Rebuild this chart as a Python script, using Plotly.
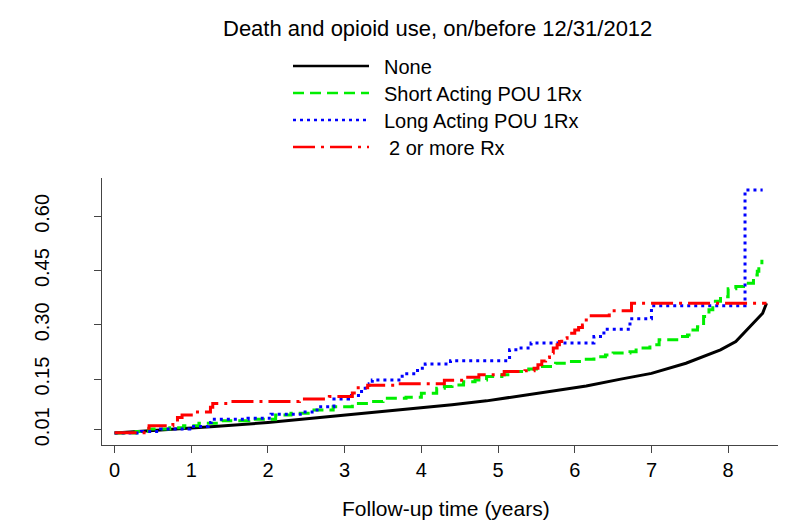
import plotly.graph_objects as go

# cumulative incidence (time in years, probability)
none_t = [0, 0.7, 1.3, 2.0, 2.6, 3.3, 3.9, 4.4, 4.85, 5.3, 5.7, 6.15, 6.6, 7.0, 7.45, 7.9, 8.1, 8.3, 8.45, 8.5]
none_p = [0.001, 0.010, 0.019, 0.030, 0.042, 0.056, 0.069, 0.079, 0.090, 0.104, 0.118, 0.131, 0.150, 0.166, 0.194, 0.231, 0.254, 0.300, 0.332, 0.360]

short_t = [0, 0.28, 0.45, 0.72, 0.9, 1.1, 1.4, 1.75, 2.1, 2.3, 2.6, 2.85, 3.1, 3.35, 3.5, 3.8, 4.0, 4.2, 4.3,
           4.4, 4.55, 4.7, 4.85, 5.05, 5.17, 5.4, 5.5, 5.75, 5.9, 6.1, 6.25, 6.4, 6.5, 6.72, 6.8, 6.98, 7.1,
           7.35, 7.47, 7.52, 7.6, 7.68, 7.75, 7.8, 7.9, 8.0, 8.1, 8.2, 8.33, 8.38, 8.4, 8.44]
short_p = [0.001, 0.005, 0.012, 0.016, 0.021, 0.028, 0.035, 0.039, 0.051, 0.056, 0.065, 0.074, 0.083, 0.088,
           0.097, 0.100, 0.111, 0.125, 0.130, 0.134, 0.143, 0.148, 0.157, 0.162, 0.171, 0.178, 0.185, 0.194,
           0.199, 0.205, 0.212, 0.217, 0.222, 0.226, 0.236, 0.245, 0.259, 0.268, 0.272, 0.286, 0.295, 0.323,
           0.342, 0.365, 0.378, 0.400, 0.406, 0.415, 0.438, 0.448, 0.461, 0.480]

long_t = [0, 0.35, 0.6, 0.98, 1.22, 1.26, 1.74, 2.04, 2.46, 2.64, 2.86, 3.05, 3.22, 3.32, 3.36, 3.75, 3.95,
          4.05, 4.38, 5.15, 5.3, 5.43, 6.25, 6.38, 6.72, 7.0, 8.22, 8.45]
long_p = [0.001, 0.005, 0.012, 0.019, 0.030, 0.039, 0.042, 0.053, 0.059, 0.074, 0.095, 0.105, 0.125, 0.137,
          0.148, 0.165, 0.180, 0.192, 0.201, 0.231, 0.236, 0.250, 0.268, 0.288, 0.317, 0.353, 0.673, 0.673]

multi_t = [0, 0.41, 0.45, 0.76, 0.82, 0.88, 1.0, 1.25, 1.28, 1.5, 2.41, 2.8, 3.1, 3.15, 3.3, 3.7, 4.3, 4.55,
           4.75, 5.08, 5.35, 5.47, 5.52, 5.57, 5.62, 5.67, 5.72, 5.77, 5.8, 5.83, 5.9, 5.96, 6.0, 6.05, 6.1,
           6.15, 6.45, 6.74, 8.5]
multi_p = [0.002, 0.014, 0.021, 0.030, 0.044, 0.051, 0.059, 0.072, 0.083, 0.088, 0.095, 0.102, 0.112, 0.126,
           0.133, 0.137, 0.147, 0.155, 0.162, 0.171, 0.173, 0.180, 0.190, 0.200, 0.210, 0.222, 0.236, 0.245,
           0.254, 0.263, 0.270, 0.277, 0.286, 0.293, 0.300, 0.325, 0.339, 0.360, 0.360]

labels = ["None", "Short Acting POU 1Rx", "Long Acting POU 1Rx", "2 or more Rx"]
y_ticks = [0.01, 0.15, 0.30, 0.45, 0.60]
y_ticktext = ["0.01", "0.15", "0.30", "0.45", "0.60"]
x_ticks = [0, 1, 2, 3, 4, 5, 6, 7, 8]

colors = ["black", "#00ee00", "#0000ff", "#ff0000"]
dashes = ["solid", "11px,6px", "3px,4px", "22px,6px,3px,6px"]
shapes_ = ["linear", "hv", "hv", "hv"]

W, H = 800, 531
L, R, T, B = 102, 22, 178, 86
FONT = "Liberation Sans, Arial, sans-serif"


def px2x(px):
    return (px - L) / (W - L - R)


def py2y(py):
    return (H - B - py) / (H - T - B)


fig = go.Figure()
for t, p, name, c, d, s in zip([none_t, short_t, long_t, multi_t], [none_p, short_p, long_p, multi_p],
                               labels, colors, dashes, shapes_):
    fig.add_trace(go.Scatter(x=t, y=p, mode="lines", name=name, line=dict(color=c, width=3, dash=d, shape=s),
                             showlegend=False))

# legend drawn by hand (R style: long line samples, no box)
leg_y = [66, 93, 120, 147]
shapes = []
annotations = []
for i, name in enumerate(labels):
    shapes.append(dict(type="line", xref="paper", yref="paper", x0=px2x(293), x1=px2x(369),
                       y0=py2y(leg_y[i]), y1=py2y(leg_y[i]),
                       line=dict(color=colors[i], width=2.5, dash=dashes[i])))
    annotations.append(dict(xref="paper", yref="paper", x=px2x(387 if i == 3 else 381.5), y=py2y(leg_y[i] + 1),
                            text=name, showarrow=False, xanchor="left", yanchor="middle",
                            font=dict(family=FONT, size=20, color="black")))

annotations.append(dict(xref="paper", yref="paper", x=px2x(437.5), y=py2y(28), text="Death and opioid use, on/before 12/31/2012",
                        showarrow=False, xanchor="center", yanchor="middle", font=dict(family=FONT, size=22, color="black")))
annotations.append(dict(xref="paper", yref="paper", x=px2x(446), y=py2y(508), text="Follow-up time (years)",
                        showarrow=False, xanchor="center", yanchor="middle", font=dict(family=FONT, size=21, color="black")))

fig.update_layout(
    width=W, height=H,
    margin=dict(l=L, r=R, t=T, b=B),
    paper_bgcolor="white", plot_bgcolor="white",
    font=dict(family=FONT, size=20, color="black"),
    shapes=shapes, annotations=annotations,
    showlegend=False,
)
fig.update_xaxes(range=[-0.164, 8.65], tickvals=x_ticks, ticks="outside", ticklen=7, tickcolor="#444",
                 showline=True, linecolor="#444", linewidth=1, showgrid=False, zeroline=False,
                 tickfont=dict(family=FONT, size=20, color="black"))
fig.update_yaxes(range=[-0.032, 0.706], tickvals=y_ticks, ticktext=y_ticktext, tickangle=-90,
                 ticks="outside", ticklen=7, tickcolor="#444", ticklabelstandoff=37,
                 showline=True, linecolor="#444", linewidth=1, showgrid=False, zeroline=False,
                 tickfont=dict(family=FONT, size=20, color="black"))

fig.write_html("out.html", config={"displayModeBar": False},
               post_script="document.body.style.margin='0';")
